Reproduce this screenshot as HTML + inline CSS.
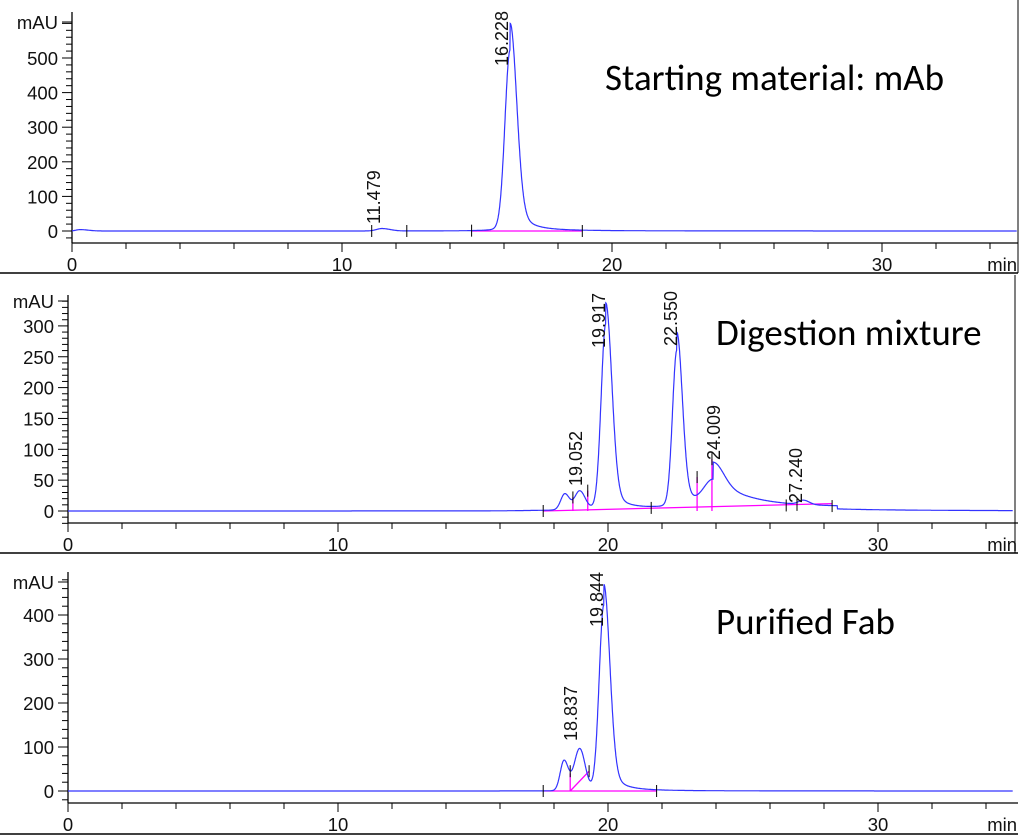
<!DOCTYPE html>
<html><head><meta charset="utf-8"><style>
html,body{margin:0;padding:0;background:#fff;}
svg{display:block;font-family:"Liberation Sans",Arial,sans-serif;}
.tl{font-size:18.5px;fill:#111;}
.pl{font-size:18px;fill:#111;}
.tt{font-family:"Carlito","Liberation Sans",sans-serif;font-size:37px;fill:#000;}
</style></head><body>
<svg id="s" width="1035" height="835" viewBox="0 0 1035 835" xmlns="http://www.w3.org/2000/svg"></svg>
<script>
const S=document.getElementById('s');let h='';
function pk(t,t0,A,sl,sr,lt,lw){let d=t-t0;let g=d<0?Math.exp(-d*d/(2*sl*sl)):Math.exp(-d*d/(2*sr*sr));let l=lt?lt/(1+(d/lw)*(d/lw))*(d>0?1:0.15):0;return A*((1-(lt||0))*g+l);}
function panel(o){
 const {x0,yb,k,axY,top,peaks,labTop,title,tx,ty,marks,mag,plabels,lab}=o;
 const X=t=>x0+27*t;
 h+=`<line x1="${x0}" y1="${top}" x2="${x0}" y2="${axY}" stroke="#000" stroke-width="1.3"/>`;
 const st=o.minor;
 for(let v=o.ymin;v<=o.ymax+0.01;v+=st){let y=yb-v*k;let maj=Math.abs(v/o.major-Math.round(v/o.major))<1e-6;h+=`<line x1="${x0-(maj?10:6)}" y1="${y}" x2="${x0}" y2="${y}" stroke="#000"/>`;if(maj&&v>=0&&Math.abs(y-lab)>12)h+=`<text class="tl" x="${x0-14}" y="${y+7}" text-anchor="end">${v}</text>`;}
 h+=`<text class="tl" x="${x0-14}" y="${lab+7}" text-anchor="end">mAU</text><line x1="${x0-10}" y1="${lab}" x2="${x0}" y2="${lab}" stroke="#000"/>`;
 h+=`<line x1="${x0}" y1="${axY}" x2="1018" y2="${axY}" stroke="#000" stroke-width="1.3"/>`;
 for(let t=0;t<=35;t+=2){let x=X(t);let maj=t%10==0;h+=`<line x1="${x}" y1="${axY}" x2="${x}" y2="${axY+(maj?9:6)}" stroke="#000"/>`;if(maj)h+=`<text class="tl" x="${x}" y="${axY+28}" text-anchor="middle">${t}</text>`;}
 h+=`<text class="tl" x="1017" y="${axY+28}" text-anchor="end">min</text>`;
 for(const m of mag)h+=`<line x1="${X(m[0])}" y1="${yb-m[1]*k}" x2="${X(m[2])}" y2="${yb-m[3]*k}" stroke="#f0f" stroke-width="1.3"/>`;
 let p='';for(let t=0;t<=35;t+=0.01){let v=0;for(const q of peaks)v+=pk(t,...q);v+=(o.drift?o.drift(t):0);p+=(p?'L':'M')+X(t).toFixed(1)+','+(yb-v*k).toFixed(1);}
 h+=`<path d="${p}" fill="none" stroke="#33f" stroke-width="1.2"/>`;
 for(const m of marks)h+=`<line x1="${X(m[0])}" y1="${yb-m[1]*k-6}" x2="${X(m[0])}" y2="${yb-m[1]*k+6}" stroke="#000"/>`;
 for(const L of plabels)h+=`<text class="pl" transform="translate(${L[1]},${L[2]}) rotate(-90)">${L[0]}</text>`;
 h+=`<text class="tt" x="${tx}" y="${ty}">${title}</text>`;
}
h+=`<line x1="0" y1="273" x2="1018" y2="273" stroke="#000" stroke-width="1.5"/><line x1="0" y1="553" x2="1018" y2="553" stroke="#000" stroke-width="1.5"/><line x1="0" y1="834" x2="1018" y2="834" stroke="#000" stroke-width="1.5"/><line x1="1018" y1="0" x2="1018" y2="273" stroke="#000"/><line x1="1015" y1="275" x2="1015" y2="553" stroke="#000"/>`;
panel({x0:72,yb:231,k:0.346,axY:243,top:12,ymin:-20,ymax:600,minor:20,major:100,lab:22,
 peaks:[[16.228,600,0.19,0.24,0.15,0.45],[11.479,7,0.2,0.3],[0.3,4,0.15,0.3]],
 mag:[[14.8,0,18.9,0]],marks:[[11.1,0],[12.4,0],[14.8,1],[18.9,0]],
 plabels:[["16.228",508,66],["11.479",380,224]],title:"Starting material: mAb",tx:605,ty:90});
panel({x0:68,yb:511,k:0.617,axY:523,top:295,ymin:-20,ymax:340,minor:10,major:50,lab:301,
 peaks:[[18.4,26,0.15,0.17],[18.95,30,0.18,0.2],[19.917,335,0.17,0.22,0.12,0.45],[22.55,283,0.16,0.2,0.12,0.45],[23.9,72,0.35,0.38,0.45,1.5],[27.24,7,0.18,0.22]],
 drift:t=>t>16&&t<28.5?5*(t-16)/12:0,
 mag:[[17.6,0,28.3,12],[18.7,0,18.7,22],[19.25,0,19.25,33],[23.3,0,23.3,55],[23.85,0,23.85,84]],
 marks:[[17.6,0],[18.7,22],[19.25,33],[21.6,5],[23.3,55],[23.85,84],[26.6,9],[27.0,10],[28.3,8]],
 plabels:[["19.917",605,348],["22.550",677,346],["19.052",582,486],["24.009",720,460],["27.240",802,503]],title:"Digestion mixture",tx:716,ty:345});
panel({x0:68,yb:791,k:0.44,axY:803,top:572,ymin:-20,ymax:480,minor:20,major:100,lab:582,
 peaks:[[18.37,68,0.14,0.16],[18.95,95,0.2,0.2],[19.844,470,0.17,0.22,0.12,0.45]],
 mag:[[17.6,0,21.8,0],[18.6,0,18.6,40],[18.6,0,19.3,45]],
 marks:[[17.6,0],[18.6,45],[19.3,45],[21.8,0]],
 plabels:[["19.844",603,627],["18.837",577,741]],title:"Purified Fab",tx:716,ty:634});
S.innerHTML=h;
</script>
</body></html>
